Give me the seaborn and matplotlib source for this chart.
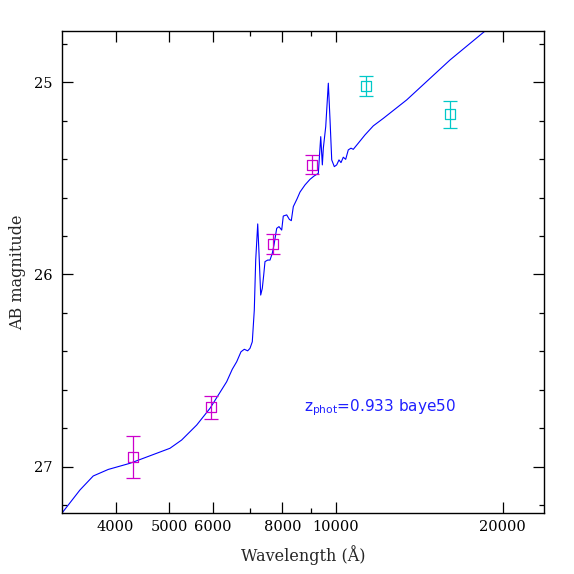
import numpy as np
import pandas as pd
import matplotlib
matplotlib.use("Agg")
import matplotlib.pyplot as plt
from matplotlib.ticker import FixedLocator, NullFormatter, FixedFormatter, MultipleLocator
import seaborn as sns

# ---- data ----
sed_wavelength = [3108, 3204, 3448, 3644, 3879, 4246, 5013, 5263, 5603, 5922, 6346,
                  6496, 6616, 6736, 6829, 6926, 6993, 7060, 7119, 7161, 7221, 7260,
                  7311, 7360, 7403, 7443, 7527, 7599, 7672, 7726, 7814, 7889, 7978,
                  8031, 8146, 8235, 8303, 8373, 8503, 8610, 8791, 8975, 9126, 9291,
                  9384, 9447, 9486, 9581, 9685, 9754, 9823, 9929, 10028, 10124, 10209,
                  10307, 10410, 10523, 10642, 10744, 10970, 11280, 11676, 12172, 13415,
                  16066, 18558, 19778]
sed_mag = [27.288, 27.239, 27.121, 27.048, 27.014, 26.982, 26.904, 26.861, 26.783, 26.696, 26.558,
           26.493, 26.454, 26.402, 26.389, 26.397, 26.384, 26.350, 26.185, 25.925, 25.737, 25.890,
           26.107, 26.072, 26.003, 25.933, 25.925, 25.925, 25.890, 25.847, 25.760, 25.751, 25.769,
           25.696, 25.690, 25.713, 25.720, 25.647, 25.607, 25.571, 25.534, 25.505, 25.488, 25.474,
           25.283, 25.430, 25.343, 25.231, 25.005, 25.196, 25.404, 25.439, 25.430, 25.404, 25.418,
           25.390, 25.401, 25.352, 25.343, 25.349, 25.317, 25.274, 25.227, 25.188, 25.092,
           24.884, 24.735, 24.669]

opt_wavelength = [4304, 5938, 7703, 9061]
opt_mag = [26.951, 26.691, 25.841, 25.430]
opt_err = [0.109, 0.061, 0.050, 0.049]

nir_wavelength = [11328, 16087]
nir_mag = [25.019, 25.166]
nir_err = [0.051, 0.070]

x_major_ticks = [4000, 5000, 6000, 8000, 10000, 20000]
x_tick_labels = ["4000", "5000", "6000", "8000", "10000", "20000"]
x_minor_ticks = [7000, 9000]
y_major_ticks = [25, 26, 27]
annotation = r"$\mathregular{z_{phot}}$=0.933 baye50"

# ---- style ----
sns.set_style("ticks")
plt.rcParams["font.family"] = ["DejaVu Serif", "DejaVu Sans"]
plt.rcParams["mathtext.default"] = "regular"

fig = plt.figure(figsize=(5.74, 5.74), dpi=100)
ax = fig.add_axes([0.1085, 0.1068, 0.8387, 0.8387])

sed = pd.DataFrame({"wavelength": sed_wavelength, "mag": sed_mag})
sns.lineplot(data=sed, x="wavelength", y="mag", ax=ax, color="#0000ff",
             linewidth=0.8, sort=False, estimator=None)

magenta = "#cc00cc"
cyan = "#00c8c8"
ax.errorbar(opt_wavelength, opt_mag, yerr=opt_err, fmt="none", ecolor=magenta,
            elinewidth=0.9, capsize=5, capthick=0.9)
ax.errorbar(nir_wavelength, nir_mag, yerr=nir_err, fmt="none", ecolor=cyan,
            elinewidth=0.9, capsize=5, capthick=0.9)
opt = pd.DataFrame({"wavelength": opt_wavelength, "mag": opt_mag})
nir = pd.DataFrame({"wavelength": nir_wavelength, "mag": nir_mag})
sns.scatterplot(data=opt, x="wavelength", y="mag", ax=ax, marker="s", s=50,
                facecolor="none", edgecolor=magenta, linewidth=0.9, zorder=5)
sns.scatterplot(data=nir, x="wavelength", y="mag", ax=ax, marker="s", s=50,
                facecolor="none", edgecolor=cyan, linewidth=0.9, zorder=5)

ax.set_xscale("log")
ax.set_xlim(3204, 23714)
ax.set_ylim(27.239, 24.735)

ax.xaxis.set_major_locator(FixedLocator(x_major_ticks))
ax.xaxis.set_major_formatter(FixedFormatter(x_tick_labels))
ax.xaxis.set_minor_locator(FixedLocator(x_minor_ticks))
ax.xaxis.set_minor_formatter(NullFormatter())
ax.yaxis.set_major_locator(FixedLocator(y_major_ticks))
ax.yaxis.set_minor_locator(MultipleLocator(0.2))

ax.tick_params(which="both", direction="in", top=True, right=True,
               colors="black", width=0.9)
ax.tick_params(which="major", length=8, labelsize=10.5)
ax.tick_params(which="minor", length=3.8)
ax.tick_params(axis="x", which="major", pad=5)
ax.tick_params(axis="y", which="major", pad=7)

for sp in ax.spines.values():
    sp.set_linewidth(1.0)
    sp.set_color("black")

ax.set_xlabel("Wavelength (Å)", fontsize=11.5)
ax.set_ylabel("AB magnitude", fontsize=11.5)
ax.xaxis.set_label_coords(0.5, -0.068)
ax.yaxis.set_label_coords(-0.076, 0.5)

ax.text(0.502, 0.2113, annotation, transform=ax.transAxes, color="#2020ff",
        fontsize=11, family="DejaVu Sans", ha="left", va="baseline")

fig.savefig("out.png", dpi=100)
